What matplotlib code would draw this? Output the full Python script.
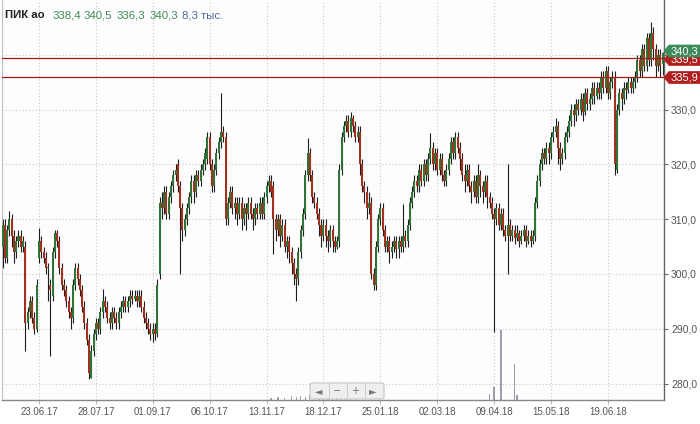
import matplotlib
matplotlib.use("Agg")
import matplotlib.pyplot as plt
from matplotlib.patches import Polygon, FancyBboxPatch, Rectangle

# daily candles, ~end of May 2017 .. end of July 2018
opens = [
    305, 309, 303, 308, 310, 307, 304, 306, 307, 305,
    305, 291, 293, 295, 292, 290, 303, 306, 304, 303,
    301, 298, 296, 304, 307.5, 306, 301, 298, 297, 295,
    293, 292, 298, 301, 299, 297, 294, 291, 288, 281,
    286, 289, 291, 290, 293, 295, 294, 292, 291, 293,
    292, 291, 293, 294, 295, 294, 295, 296, 295.5, 296,
    295, 296, 294, 292, 291, 290, 289, 290, 289, 300,
    313, 312, 315, 311, 314, 316, 318, 320, 316, 312,
    308, 310, 312, 314, 317, 315, 318, 317, 319, 320,
    321, 325, 320, 316, 319, 322, 324, 326, 325, 310,
    313, 315, 312, 313, 311, 313, 310, 312, 311, 313,
    311, 310, 312, 311, 313, 311, 314, 316, 317, 316,
    310, 308, 310, 307, 309, 305, 306, 304, 302, 300,
    299, 304, 308, 311, 318, 322, 318, 314, 313, 311,
    309, 307, 309, 307, 306, 308, 306, 305, 306, 319,
    325, 327, 328, 326, 328.5, 327, 325, 326, 320, 316,
    315, 312, 313, 300, 298, 305, 310, 312, 308, 305,
    306, 304, 305, 306, 304.5, 306, 305, 307, 306, 309,
    313, 315, 317, 316, 319, 317, 320, 318, 321, 323,
    320, 322, 319, 321, 318, 317, 319, 321, 324, 322,
    325, 323, 321, 318, 317, 319, 316, 315, 317, 314,
    318, 316, 315, 317, 314, 313, 311, 310, 312, 309,
    311, 308, 307, 309, 307, 308, 306.5, 307.5, 306, 307,
    308, 306, 307, 306, 307, 313, 317, 320, 322, 321,
    323, 322, 325, 326, 327, 323, 321, 322, 325, 326,
    328, 330, 329, 331, 330, 332, 329.5, 333, 331, 332,
    334, 332.5, 334, 333, 336, 334, 337, 333, 335, 336,
    319, 330, 333, 332, 334, 333.5, 335, 334, 335, 336,
    339, 337, 341, 338, 343, 339, 344, 341, 338, 340,
    338.4,
]
highs = [
    310, 310, 309, 311.5, 311, 308, 307, 308, 308, 307,
    306, 294, 296, 296, 293, 299, 308.3, 307, 305, 304,
    302, 299, 305, 308, 308, 307, 302, 299, 298, 296,
    294, 299, 302, 302, 300, 298, 295, 292, 289, 287,
    290, 292, 292, 294, 297.3, 296, 295, 293, 294, 294,
    293, 294, 295, 296, 296, 296, 297, 297, 297, 297,
    297, 297, 295, 293, 292, 291, 291, 291, 299, 314,
    315, 316, 316, 315, 317, 319, 320, 321, 317, 313,
    311, 313, 315, 318, 318, 319, 319, 320, 321, 323,
    326, 326, 321, 320, 323, 325, 333, 327, 326, 314,
    316, 316, 314, 314, 314, 314, 313, 313, 314, 314,
    312, 313, 313, 314, 314, 315, 317, 318, 318, 317,
    311, 311, 311, 310, 310, 307, 307, 305, 303, 301,
    305, 309, 312, 319, 324.9, 323, 319, 315, 314, 312,
    310, 310, 310, 308, 309, 309, 307, 307, 320, 326,
    328, 329, 329, 329.5, 329, 328, 327, 327, 321, 317,
    316, 315, 314, 301, 306, 311, 313, 313, 309, 307,
    307, 306, 307, 307, 307, 307, 312.7, 308, 310, 314,
    316, 318, 318, 320, 320, 321, 321, 322, 325.8, 324,
    323, 323, 322, 322, 319, 320, 322, 325, 325, 326,
    326, 324, 322, 320, 320, 320, 317, 318, 318, 320,
    319, 317, 318, 318, 315, 314, 312, 313, 313, 312,
    312, 309, 320, 310, 309, 309, 309, 308, 308, 309,
    309, 308, 308, 308, 314, 318, 321, 323, 323, 324,
    324, 326, 327, 328.5, 328, 324, 323, 326, 327, 329,
    331, 331, 332, 332, 333, 333, 334, 334, 333, 335,
    335, 335, 335, 337, 337, 338, 338, 336, 337, 337,
    331, 334, 334, 335, 335, 336, 336, 336, 337, 340,
    340, 342, 342, 344, 344, 346, 345, 342, 341, 341,
    340.5,
]
lows = [
    301, 302, 302, 307, 305, 302, 303, 305, 304, 304,
    286, 290, 292, 291, 289, 289.5, 302, 303, 302, 300,
    295, 285, 295, 303, 305, 300, 297, 296, 294, 292,
    290, 291, 297, 298, 296, 293, 290, 287, 280.8, 281,
    285, 288, 289, 289, 292, 293, 291, 290, 290, 291,
    290, 290, 292, 293, 293, 293, 294, 294.5, 295, 294,
    294, 293, 291, 290, 289, 288, 287.6, 288, 288.5, 299,
    310, 311, 310, 310, 313, 315, 317, 315, 300, 306,
    307, 309, 311, 313, 313, 314, 316, 316, 318, 319,
    320, 319, 315, 315, 318, 321, 323, 324, 309, 309,
    312, 311, 310, 309, 310, 308, 309, 308, 310, 310,
    308, 309, 310, 310, 310, 310, 313, 315, 314, 303.6,
    306, 307, 305, 306, 304, 303, 302, 300, 298, 295,
    298, 303, 307, 310, 317, 317, 313, 312, 310, 307,
    305, 306, 305, 304, 305, 304, 304, 304.5, 305, 318,
    324, 326, 325, 325, 326, 324, 324, 318, 315, 313,
    310, 311, 299, 297, 297, 304, 309, 307, 304, 304,
    302, 303, 304, 303, 303, 304, 304, 305, 305, 308,
    312, 314, 315, 315, 316, 316, 317, 317, 320, 319,
    319, 318, 318, 317, 316, 316, 318, 320, 321, 321,
    322, 319, 317, 315, 316, 315, 313, 314, 313, 313,
    314, 313, 314, 312, 312, 310, 289.4, 309, 308, 308,
    307, 306, 300, 306, 306, 305.5, 306, 305, 305.5, 306,
    305, 305.5, 305, 305.5, 306, 312, 316, 319, 320, 320,
    320, 321, 324, 325, 320, 319, 320, 321, 324, 325,
    327, 327, 328, 329, 329, 328, 329, 330, 330, 331,
    331, 332, 332, 332, 333, 333, 332, 332, 334, 318,
    318.5, 329, 330, 331, 332, 333, 333, 333, 334, 335,
    336, 336, 337, 337, 338, 338, 339, 336, 337, 336,
    336.3,
]
closes = [
    309, 303, 308, 310, 307, 304, 306, 307, 305, 306,
    291, 293, 295, 292, 290, 298, 306, 304, 303, 301,
    301, 297, 304, 307.5, 306, 301, 298, 297, 295, 293,
    292, 298, 301, 299, 297, 294, 291, 288, 282, 286,
    289, 291, 290, 293, 295, 294, 292, 291, 293, 292,
    291, 293, 294, 295, 294, 295, 296, 295.5, 296, 295,
    296, 294, 292, 291, 290, 289, 290, 289, 298, 313,
    312, 315, 311, 314, 316, 318, 319, 316, 312, 308,
    310, 312, 314, 317, 315, 318, 317, 319, 320, 322,
    325, 320, 316, 319, 322, 324, 326, 325, 310, 313,
    315, 312, 313, 311, 313, 310, 312, 311, 313, 311,
    310, 312, 311, 313, 311, 314, 316, 317, 315, 310,
    308, 310, 307, 309, 305, 306, 304, 302, 300, 299,
    304, 308, 311, 318, 322, 318, 314, 313, 311, 309,
    307, 309, 307, 306, 308, 306, 305, 306, 319, 325,
    327, 328, 326, 328.5, 327, 325, 326, 320, 316, 315,
    312, 313, 300, 298, 305, 310, 312, 308, 305, 306,
    304, 305, 306, 304.5, 306, 305, 307, 306, 309, 313,
    315, 317, 316, 319, 317, 320, 318, 321, 323, 320,
    322, 319, 321, 318, 317, 319, 321, 324, 322, 325,
    323, 321, 318, 317, 319, 316, 315, 317, 314, 318,
    316, 315, 317, 314, 313, 311, 310, 312, 309, 311,
    308, 307, 309, 307, 308, 306.5, 307.5, 306, 307, 308,
    306, 307, 306, 307, 313, 317, 320, 322, 321, 323,
    322, 325, 326, 327, 323, 321, 322, 325, 326, 328,
    330, 329, 331, 330, 332, 329.5, 333, 331, 332, 334,
    332.5, 334, 333, 336, 334, 337, 333, 335, 336, 320,
    330, 333, 332, 334, 333.5, 335, 334, 335, 336, 339,
    337, 341, 338, 343, 339, 344, 341, 338, 340, 338,
    340.3,
]

# volume (only the bars that show up above the axis)
vol_idx = [118, 121, 124, 127, 129, 131, 133, 135, 137, 139, 141, 143,
           145, 147, 149, 151, 153, 155, 214, 216, 219, 225, 226]
vol_vals = [0.6, 0.8, 0.5, 0.9, 0.7, 1.0, 0.8, 1.2, 0.9, 0.7, 1.1, 0.8,
            0.6, 0.9, 1.0, 0.7, 0.6, 0.5, 1.5, 3.2, 17.5, 9.0, 1.3]

tick_idx = [16, 41, 66, 91, 116, 141, 166, 191, 216, 241, 266]
tick_dates = ["23.06.17", "28.07.17", "01.09.17", "06.10.17", "13.11.17",
              "18.12.17", "25.01.18", "02.03.18", "09.04.18", "15.05.18",
              "19.06.18"]
price_ticks = [280, 290, 300, 310, 320, 330, 340]

last_o, last_h, last_l, last_c = 338.4, 340.5, 336.3, 340.3
level_lines = [339.5, 335.9]

GREEN = "#2f7437"
RED = "#a3301d"
FONT = ["Liberation Sans", "DejaVu Sans"]
plt.rcParams["font.family"] = FONT

W, H = 700, 424


def fx(x):
    return x / W


def fy(y):
    return 1 - y / H


def fmt(v):
    return f"{v:.1f}".replace(".", ",")


fig = plt.figure(figsize=(W / 100, H / 100), dpi=100)
fig.patch.set_facecolor("white")
ax = fig.add_axes([fx(2), fy(400), 662 / W, 400 / H])
ax.set_facecolor("#fdfdfd")

xs = list(range(len(closes)))
colors = [GREEN if c >= o else RED for o, c in zip(opens, closes)]
bottoms = [min(o, c) for o, c in zip(opens, closes)]
heights = [max(abs(c - o), 0.3) for o, c in zip(opens, closes)]

ax.vlines(xs, lows, highs, color="#1e1e1e", linewidth=0.8, zorder=2)
ax.bar(xs, heights, bottom=bottoms, width=0.88, color=colors,
       linewidth=0, zorder=3)

for lv in level_lines:
    ax.axhline(lv, color="#a31a1a", linewidth=0.9, zorder=4)

ax.set_xlim(-0.25, 290.65)
ax.set_ylim(277, 350)
ax.set_xticks(tick_idx)
ax.set_xticklabels(tick_dates)
ax.set_yticks(price_ticks)
ax.set_yticklabels([fmt(v) for v in price_ticks])
ax.yaxis.tick_right()
ax.tick_params(axis="y", length=3, width=0.8, color="#666", pad=2,
               labelsize=7.5, labelcolor="#555")
ax.tick_params(axis="x", length=3, width=0.6, color="#aaa", pad=2,
               labelsize=7, labelcolor="#555")
ax.grid(True, linestyle=(0, (1, 2)), color="#c8c8c8", linewidth=0.8)
ax.set_axisbelow(True)
ax.spines["top"].set_visible(False)
ax.spines["left"].set_color("#c0c0c0")
ax.spines["left"].set_linewidth(0.8)
ax.spines["bottom"].set_color("#888")
ax.spines["bottom"].set_linewidth(1.0)
ax.spines["right"].set_color("#666")
ax.spines["right"].set_linewidth(1.0)

# volume overlay along the bottom
axv = fig.add_axes(ax.get_position(), sharex=ax)
axv.patch.set_visible(False)
axv.set_axis_off()
axv.set_ylim(0, 100)
axv.bar(vol_idx, vol_vals, width=0.55, color="#9c9caa", linewidth=0)
axv.set_xlim(-0.25, 290.65)

# header line
hy = fy(15)
fig.text(fx(5), hy, "ПИК ао", fontsize=8.2, fontweight="bold", color="#222",
         va="center")
for xp, val in zip([53, 84, 117, 150], [last_o, last_h, last_l, last_c]):
    fig.text(fx(xp), hy, fmt(val), fontsize=8.2, color="#3f8a5c", va="center")
fig.text(fx(182), hy, "8,3 тыс.", fontsize=8.2, color="#4d6b95", va="center")


# price tags at the right edge
def tag(ycen, text, color, clip_top=None):
    pts = [(664, ycen), (669, ycen - 6), (700, ycen - 6),
           (700, ycen + 6), (669, ycen + 6)]
    poly = Polygon([(fx(a), fy(b)) for a, b in pts], closed=True,
                   transform=fig.transFigure, facecolor=color,
                   edgecolor=color, linewidth=0.5)
    fig.patches.append(poly)
    t = fig.text(fx(684), fy(ycen), text, fontsize=8, color="white",
                 ha="center", va="center")
    if clip_top is not None:
        clip = Rectangle((fx(660), fy(ycen + 7)), fx(40), (ycen + 7 - clip_top) / H,
                         transform=fig.transFigure, visible=False)
        fig.patches.append(clip)
        t.set_clip_path(clip)


tag(59.5, fmt(level_lines[0]), "#b01e1e", clip_top=57)
tag(51, fmt(last_c), "#3d8a5a")
tag(77.5, fmt(level_lines[1]), "#b01e1e")

# scroll / zoom widget
box = FancyBboxPatch((fx(310), fy(399)), fx(74), 16 / H,
                     boxstyle="round,pad=0,rounding_size=0.004",
                     transform=fig.transFigure, facecolor="#efefef",
                     edgecolor="#c4c4c4", linewidth=0.8)
fig.patches.append(box)
for sx in [328.5, 346.5, 364.5]:
    fig.lines.append(plt.Line2D([fx(sx), fx(sx)], [fy(398), fy(384)],
                                transform=fig.transFigure, color="#cfcfcf",
                                linewidth=0.8))
for sx, sym in zip([319, 337, 355, 373], ["◄", "−", "+", "►"]):
    fig.text(fx(sx), fy(391), sym, fontsize=7, color="#777",
             ha="center", va="center", family=["DejaVu Sans"])

fig.savefig("out.png", dpi=100)
